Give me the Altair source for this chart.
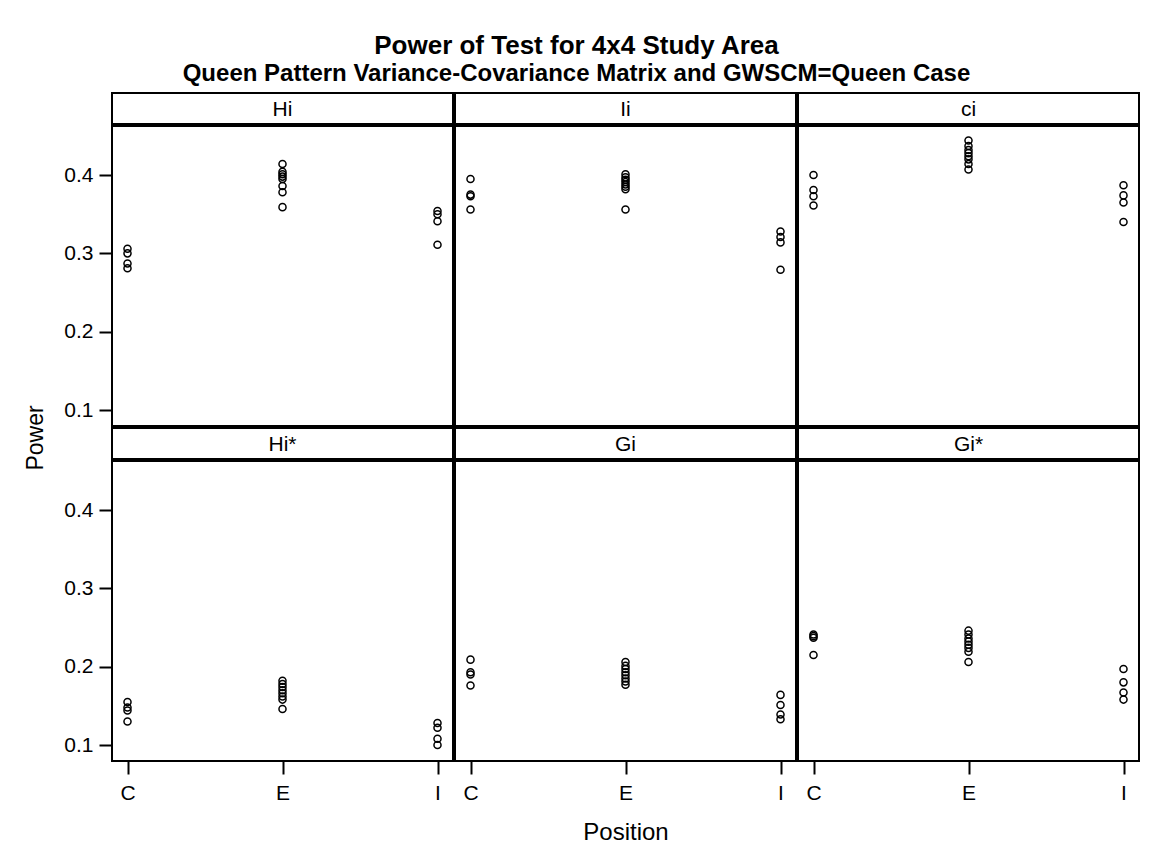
import altair as alt
import pandas as pd

FONT = "Liberation Sans"

panel_names = ["Hi", "Ii", "ci", "Hi*", "Gi", "Gi*"]
positions = ["C", "E", "I"]

hi_C = [0.306, 0.300, 0.287, 0.281]
hi_E = [0.414, 0.404, 0.401, 0.398, 0.395, 0.386, 0.378, 0.359]
hi_I = [0.354, 0.350, 0.341, 0.311]
ii_C = [0.395, 0.375, 0.373, 0.356]
ii_E = [0.401, 0.397, 0.394, 0.391, 0.388, 0.385, 0.382, 0.356]
ii_I = [0.328, 0.321, 0.314, 0.279]
ci_C = [0.400, 0.381, 0.373, 0.361]
ci_E = [0.444, 0.437, 0.432, 0.428, 0.424, 0.420, 0.414, 0.407]
ci_I = [0.387, 0.374, 0.365, 0.340]
his_C = [0.155, 0.148, 0.144, 0.130]
his_E = [0.182, 0.178, 0.174, 0.170, 0.166, 0.162, 0.158, 0.146]
his_I = [0.128, 0.122, 0.108, 0.100]
gi_C = [0.209, 0.193, 0.190, 0.176]
gi_E = [0.206, 0.201, 0.197, 0.193, 0.189, 0.185, 0.181, 0.177]
gi_I = [0.164, 0.151, 0.139, 0.133]
gis_C = [0.241, 0.239, 0.237, 0.215]
gis_E = [0.246, 0.241, 0.236, 0.232, 0.228, 0.224, 0.219, 0.206]
gis_I = [0.197, 0.180, 0.167, 0.158]

groups = {
    "Hi": (hi_C, hi_E, hi_I),
    "Ii": (ii_C, ii_E, ii_I),
    "ci": (ci_C, ci_E, ci_I),
    "Hi*": (his_C, his_E, his_I),
    "Gi": (gi_C, gi_E, gi_I),
    "Gi*": (gis_C, gis_E, gis_I),
}

y_ticks = [0.1, 0.2, 0.3, 0.4]
y_domain = [0.0796, 0.4626]

records = []
for name in panel_names:
    for pos, vals in zip(positions, groups[name]):
        for v in vals:
            records.append({"panel": name, "position": pos, "power": v})
df = pd.DataFrame(records)

PW, PH, HH = 341, 300, 31


def panel(name, col, row):
    header = (
        alt.Chart(pd.DataFrame({"panel": [name]}))
        .mark_text(font=FONT, fontSize=21, color="black", baseline="middle", align="center")
        .encode(text="panel:N", x=alt.value(PW / 2), y=alt.value(HH / 2 + 1))
        .properties(width=PW, height=HH)
    )
    if col == 0:
        yaxis = alt.Axis(values=y_ticks, format=".1f", title=None, domain=False, grid=False,
                         tickSize=13, labelPadding=6)
    else:
        yaxis = None
    if row == 1:
        xaxis = alt.Axis(title="Position" if col == 1 else None, domain=False, grid=False,
                         labelAngle=0, tickSize=13, labelPadding=8, titlePadding=17)
    else:
        xaxis = None
    plot = (
        alt.Chart(df[df["panel"] == name])
        .mark_point(shape="circle", filled=False, color="black", size=50, strokeWidth=1.5, opacity=1)
        .encode(
            x=alt.X("position:N", scale=alt.Scale(domain=positions, padding=0.1), axis=xaxis),
            y=alt.Y("power:Q", scale=alt.Scale(domain=y_domain, nice=False, zero=False), axis=yaxis),
        )
        .properties(width=PW, height=PH)
    )
    return alt.vconcat(header, plot, spacing=0)


rows = []
for r in range(2):
    rows.append(alt.hconcat(*[panel(panel_names[r * 3 + c], c, r) for c in range(3)], spacing=0))
grid = alt.vconcat(*rows, spacing=0)

power_label = (
    alt.Chart(pd.DataFrame({"t": ["Power"]}))
    .mark_text(font=FONT, fontSize=23, color="black", angle=270, align="center", baseline="middle")
    .encode(text="t:N", x=alt.value(22), y=alt.value(345))
    .properties(width=47, height=2 * (HH + PH), view=alt.ViewBackground(stroke="transparent"))
)

chart = (
    alt.hconcat(power_label, grid, spacing=0)
    .properties(
        title=alt.TitleParams(
            text="Power of Test for 4x4 Study Area",
            subtitle="Queen Pattern Variance-Covariance Matrix and GWSCM=Queen Case",
            font=FONT, fontSize=26, fontWeight="bold", color="black",
            subtitleFont=FONT, subtitleFontSize=24, subtitleFontWeight="bold", subtitleColor="black",
            subtitlePadding=3, anchor="middle", offset=6,
        ),
        padding={"left": 5, "top": 25, "right": 5, "bottom": 5},
        background="white",
    )
    .configure_view(stroke="black", strokeWidth=2)
    .configure_axis(
        labelFont=FONT, labelFontSize=21, labelColor="black",
        titleFont=FONT, titleFontSize=24, titleColor="black", titleFontWeight="normal",
        tickColor="black", tickWidth=2,
    )
)

chart.save("out.html", embed_options={"renderer": "svg", "actions": False})
